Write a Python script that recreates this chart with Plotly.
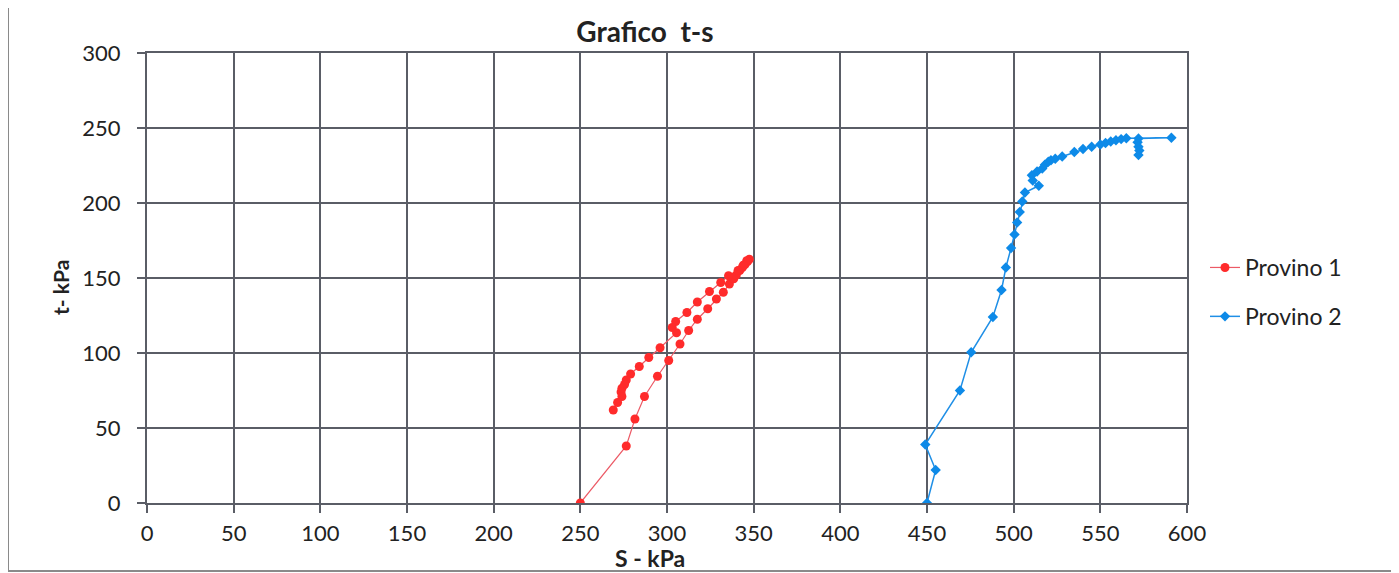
import plotly.graph_objects as go

# Provino 1 (s, t) in kPa
p1_s = [250, 276.5, 281.5, 287, 294.5, 301, 307.5, 312.5, 317.5, 323.5, 328.5, 332.5,
        336, 338.5, 340, 342, 343.5, 345, 346.5, 347.5,
        346, 344, 341, 335.5, 331, 324.5, 317.5, 311.5, 305, 303, 305.5, 296, 289.5,
        284, 279, 276.5, 275.5, 274, 273.5, 274, 271.5, 269]
p1_t = [0, 38, 56, 71, 84.5, 95, 106, 115, 122.5, 129.5, 136, 140.5,
        146, 149.5, 152, 155, 157, 159, 161, 162.5,
        161.5, 158.5, 155, 151.5, 147, 141, 134, 127, 121, 117, 113.5, 103.5, 97,
        91, 86, 82, 79, 76.5, 74, 71, 67, 62]

# Provino 2 (s, t) in kPa
p2_s = [450, 455, 449, 469, 475.5, 488, 493, 495.5, 498.5, 500.5, 502, 503.5, 505,
        506.5, 514.5, 511, 510.5, 513.5, 516.5, 518, 520, 521.5, 524, 528, 535, 540,
        545, 550, 553, 556, 559, 562, 565, 591, 572, 571.5, 572, 572.5, 572]
p2_t = [0, 22, 39, 75, 100.5, 124, 142, 157, 170, 179, 187, 194, 201,
        207, 211.5, 215, 218.5, 221, 223, 225.5, 227.5, 228.5, 229.5, 231, 234, 236,
        237.5, 239, 240, 241, 241.8, 242.6, 243.2, 243.5, 243, 240.5, 237.5, 235, 232]

x_ticks = list(range(0, 601, 50))
y_ticks = list(range(0, 301, 50))

FONT = "Lato, 'Open Sans', sans-serif"
GRID = "#5a5d66"
TXT = "#222222"

OFF = 8  # default page body margin
L, R, T, B = 147 - OFF, 1187 - OFF, 53 - OFF, 503 - OFF
W, H = 1399 - OFF, 573 - OFF

def px(p):
    return (p - OFF - L) / (R - L)
def py(p):
    return (B - (p - OFF)) / (B - T)

fig = go.Figure()
fig.add_trace(go.Scatter(
    x=p1_s, y=p1_t, name="Provino 1", mode="lines+markers", legendgroup="a",
    line=dict(color="#ec5a66", width=1.2),
    marker=dict(color="#ff2b2b", size=9, symbol="circle"),
))
fig.add_trace(go.Scatter(
    x=p2_s, y=p2_t, name="Provino 2", mode="lines+markers", legendgroup="b",
    line=dict(color="#1f8fe6", width=1.5),
    marker=dict(color="#0d8ae8", size=8, symbol="diamond"),
))

fig.update_layout(
    width=W, height=H,
    margin=dict(l=L, r=W - R, t=T, b=H - B),
    paper_bgcolor="white", plot_bgcolor="white",
    font=dict(family=FONT, size=22, color=TXT),
    title=dict(text="<b>Grafico  t-s</b>", x=px(645), xref="paper",
               xanchor="center", y=1 - (32 - OFF) / H, yanchor="middle",
               font=dict(size=28, family=FONT, color=TXT)),
    showlegend=True,
    legend=dict(x=px(1205), y=py(292), xanchor="left", yanchor="middle",
                font=dict(size=23, family=FONT, color=TXT),
                bgcolor="rgba(0,0,0,0)", tracegroupgap=16),
    xaxis=dict(range=[0, 600], tickvals=x_ticks, showgrid=True, gridcolor=GRID,
               gridwidth=2, showline=True, linecolor=GRID, linewidth=2, mirror=True,
               ticks="outside", ticklen=8, tickcolor=GRID, tickwidth=2,
               ticklabelstandoff=2, zeroline=False,
               tickfont=dict(size=22, family=FONT, color=TXT)),
    yaxis=dict(range=[0, 300], tickvals=y_ticks, showgrid=True, gridcolor=GRID,
               gridwidth=2, showline=True, linecolor=GRID, linewidth=2, mirror=True,
               ticks="outside", ticklen=8, tickcolor=GRID, tickwidth=2,
               ticklabelstandoff=12, zeroline=False,
               tickfont=dict(size=22, family=FONT, color=TXT)),
    annotations=[
        dict(text="<b>S - kPa</b>", x=px(650), y=py(558), xref="paper", yref="paper",
             xanchor="center", yanchor="middle", showarrow=False,
             font=dict(size=23, family=FONT, color=TXT)),
        dict(text="<b>t- kPa</b>", x=px(60), y=py(288), xref="paper", yref="paper",
             xanchor="center", yanchor="middle", showarrow=False, textangle=-90,
             font=dict(size=21, family=FONT, color=TXT)),
    ],
    shapes=[
        dict(type="rect", xref="paper", yref="paper",
             x0=px(8), x1=px(1393), y0=py(571), y1=py(6),
             line=dict(color="#8a8a8a", width=2), fillcolor="rgba(0,0,0,0)",
             layer="below"),
    ],
)

fig.write_html("out.html")
